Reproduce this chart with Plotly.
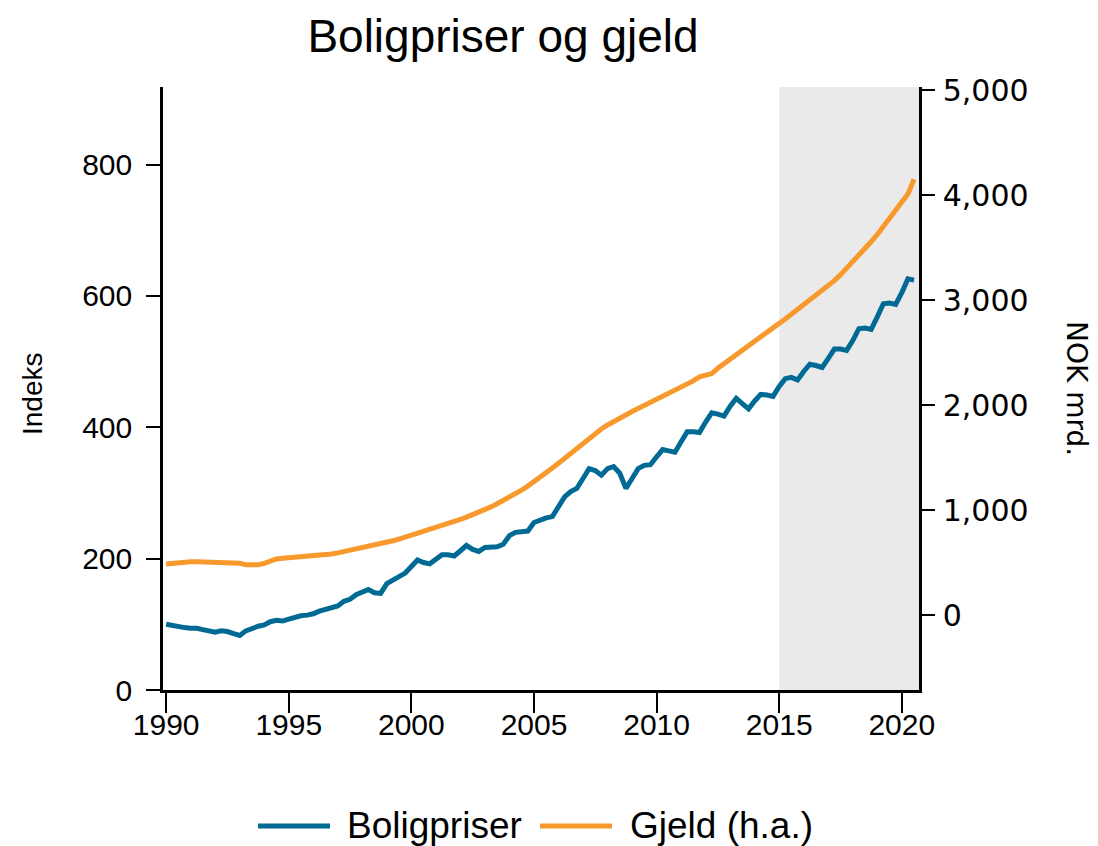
import plotly.graph_objects as go

# ---- data ----
start_year = 1990
end_year = 2020
end_quarter = 3

boligpriser = [
    100, 98, 96, 95,      # 1990
    94, 94, 92, 89,       # 1991
    88, 90, 89, 86,       # 1992
    83, 90, 94, 97,       # 1993
    99, 104, 106, 105,    # 1994
    108, 111, 113, 114,   # 1995
    116, 120, 122, 125,   # 1996
    128, 135, 138, 145,   # 1997
    150, 153, 148, 147,   # 1998
    162, 167, 172, 178,   # 1999
    188, 198, 194, 192,   # 2000
    199, 206, 206, 204,   # 2001
    212, 220, 214, 211,   # 2002
    217, 218, 218, 222,   # 2003
    235, 240, 241, 242,   # 2004
    255, 259, 262, 264,   # 2005
    280, 294, 302, 307,   # 2006
    322, 337, 334, 327,   # 2007
    337, 340, 330, 307,   # 2008
    322, 337, 342, 343,   # 2009
    355, 366, 364, 362,   # 2010
    378, 393, 393, 392,   # 2011
    408, 422, 420, 417,   # 2012
    432, 444, 436, 428,   # 2013
    440, 450, 449, 447,   # 2014
    462, 474, 476, 472,   # 2015
    485, 496, 494, 491,   # 2016
    505, 519, 519, 517,   # 2017
    532, 550, 551, 549,   # 2018
    568, 588, 589, 587,   # 2019
    605, 626, 624,        # 2020
]

gjeld = [
    485, 492, 498, 503,       # 1990
    507, 508, 507, 507,       # 1991
    506, 500, 494, 498,       # 1992
    494, 478, 476, 480,       # 1993
    492, 512, 534, 540,       # 1994
    544, 547, 551, 556,       # 1995
    562, 570, 575, 582,       # 1996
    592, 604, 618, 628,       # 1997
    638, 652, 664, 675,       # 1998
    690, 707, 724, 742,       # 1999
    757, 775, 795, 815,       # 2000
    832, 850, 870, 890,       # 2001
    910, 932, 955, 978,       # 2002
    1003, 1030, 1060, 1090,   # 2003
    1120, 1155, 1190, 1228,   # 2004
    1268, 1310, 1355, 1400,   # 2005
    1445, 1492, 1540, 1590,   # 2006
    1638, 1685, 1730, 1772,   # 2007
    1810, 1845, 1878, 1908,   # 2008
    1938, 1966, 1994, 2022,   # 2009
    2049, 2078, 2107, 2136,   # 2010
    2162, 2195, 2230, 2268,   # 2011
    2280, 2300, 2350, 2395,   # 2012
    2440, 2485, 2530, 2572,   # 2013
    2610, 2651, 2692, 2732,   # 2014
    2773, 2820, 2865, 2910,   # 2015
    2954, 2998, 3042, 3086,   # 2016
    3130, 3185, 3240, 3300,   # 2017
    3360, 3425, 3490, 3555,   # 2018
    3625, 3700, 3780, 3860,   # 2019
    3935, 4010, 4150,         # 2020
]

series_names = ["Boligpriser", "Gjeld (h.a.)"]
x_ticks = [1990, 1995, 2000, 2005, 2010, 2015, 2020]
left_ticks = [0, 200, 400, 600, 800]
right_ticks = [0, 1000, 2000, 3000, 4000, 5000]
shade_start = "2015-01-01"

# quarterly dates (first day of quarter)
dates = []
for y in range(start_year, end_year + 1):
    for q in range(1, 5):
        if y == end_year and q > end_quarter:
            break
        dates.append(f"{y}-{3 * (q - 1) + 1:02d}-01")

FONT = "Liberation Sans, Arial, sans-serif"
FONT_R = "DejaVu Sans, Verdana, sans-serif"
BLUE = "#006a94"
ORANGE = "#f7992c"
COLORS = [BLUE, ORANGE]
x_range = ["1989-11-15", "2020-09-13"]

fig = go.Figure()
fig.add_trace(go.Scatter(x=dates, y=boligpriser, name=series_names[0], mode="lines",
                         line=dict(color=BLUE, width=5), yaxis="y"))
fig.add_trace(go.Scatter(x=dates, y=gjeld, name=series_names[1], mode="lines",
                         line=dict(color=ORANGE, width=5), yaxis="y2"))

fig.add_vrect(x0=shade_start, x1=x_range[1], fillcolor="#eaeaea", opacity=1,
              line_width=0, layer="below")

fig.update_layout(
    width=1090, height=838,
    margin=dict(l=155, r=179, t=79, b=156),
    paper_bgcolor="white", plot_bgcolor="white",
    font=dict(family=FONT, color="black", size=30),
    showlegend=False,
    title=dict(text="Boligpriser og gjeld", x=495 / 1090, xanchor="center", xref="container",
               y=0.967, yanchor="middle", yref="container",
               font=dict(family=FONT, size=46, color="black")),
    xaxis=dict(type="date", range=x_range, tickvals=[f"{v}-01-01" for v in x_ticks],
               ticktext=[str(v) for v in x_ticks],
               showgrid=False, zeroline=False, showline=True, linecolor="black", linewidth=2.5,
               ticks="outside", ticklen=20, tickwidth=1.5, tickcolor="black",
               ticklabelstandoff=-14,
               tickfont=dict(size=30, family=FONT)),
    yaxis=dict(range=[0, 918], tickvals=left_ticks, ticktext=[str(v) for v in left_ticks],
               showgrid=False, zeroline=False, showline=True, linecolor="black", linewidth=2.5,
               ticks="outside", ticklen=14, tickwidth=1.5, tickcolor="black",
               ticklabelstandoff=8,
               tickfont=dict(size=30, family=FONT)),
    yaxis2=dict(range=[-714, 5029], overlaying="y", side="right", tickvals=right_ticks,
                ticktext=[f"{v:,}" for v in right_ticks],
                showgrid=False, zeroline=False, showline=True, linecolor="black", linewidth=2.5,
                ticks="outside", ticklen=13, tickwidth=1.5, tickcolor="black",
                ticklabelstandoff=2,
                tickfont=dict(size=30, family=FONT_R)),
)

# axis titles
fig.add_annotation(text="Indeks", xref="paper", yref="paper", x=-0.1733, y=0.4925,
                   xanchor="center", yanchor="middle", textangle=-90, showarrow=False,
                   font=dict(size=28, family=FONT))
fig.add_annotation(text="NOK mrd.", xref="paper", yref="paper", x=1.209, y=0.5008,
                   xanchor="center", yanchor="middle", textangle=90, showarrow=False,
                   font=dict(size=28, family=FONT_R))

# legend (drawn below the plot)
legend_y = -0.2255
legend_items = [(0.1257, 0.2209, 0.2407), (0.4987, 0.5939, 0.6151)]
for (lx0, lx1, tx), name, col in zip(legend_items, series_names, COLORS):
    fig.add_shape(type="line", xref="paper", yref="paper", x0=lx0, x1=lx1,
                  y0=legend_y, y1=legend_y, line=dict(color=col, width=5))
    fig.add_annotation(text=name, xref="paper", yref="paper", x=tx, y=legend_y,
                       xanchor="left", yanchor="middle", showarrow=False,
                       font=dict(size=37, family=FONT))

fig.write_html("out.html")
